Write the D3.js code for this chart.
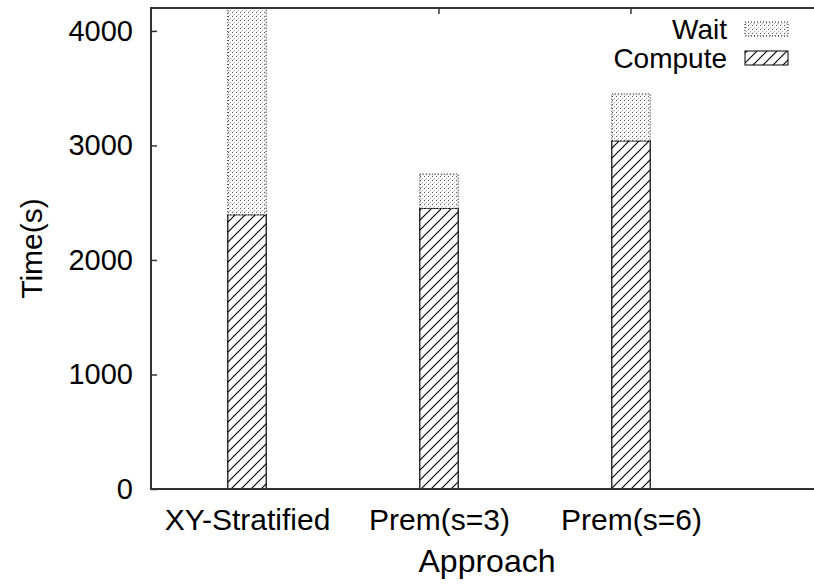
<!DOCTYPE html>
<html>
<head>
<meta charset="utf-8">
<script src="https://cdn.jsdelivr.net/npm/d3@7"></script>
<style>
  html, body { margin: 0; padding: 0; background: #fff; overflow: hidden; }
  svg { display: block; }
  text { font-family: "Liberation Sans", Arial, sans-serif; fill: #000; }
</style>
</head>
<body>
<div id="chart"></div>
<script>
const approaches = ["XY-Stratified", "Prem(s=3)", "Prem(s=6)"];
const computeTime = [2395, 2450, 3040];
const waitTime = [1900, 300, 410];
const yTicks = [0, 1000, 2000, 3000, 4000];

const width = 814, height = 584;
const plotL = 151, plotT = 8, plotR = 823, plotB = 489;

const svg = d3.select("#chart").append("svg")
    .attr("width", width)
    .attr("height", height);

const defs = svg.append("defs");

// hatch for compute
const hatch = defs.append("pattern")
    .attr("id", "hatch")
    .attr("patternUnits", "userSpaceOnUse")
    .attr("width", 10).attr("height", 10);
hatch.append("rect").attr("width", 10).attr("height", 10).attr("fill", "#fff");
hatch.append("path")
    .attr("d", "M-2,2 L2,-2 M0,10 L10,0 M8,12 L12,8")
    .attr("stroke", "#000").attr("stroke-width", 1.1);

// fine dots for wait
const dots = defs.append("pattern")
    .attr("id", "dots")
    .attr("patternUnits", "userSpaceOnUse")
    .attr("width", 4).attr("height", 4);
dots.append("rect").attr("width", 4).attr("height", 4).attr("fill", "#fff");
dots.append("rect").attr("x", 0).attr("y", 0).attr("width", 1).attr("height", 1).attr("fill", "#555");
dots.append("rect").attr("x", 2).attr("y", 2).attr("width", 1).attr("height", 1).attr("fill", "#aaa");
dots.append("rect").attr("x", 1).attr("y", 3).attr("width", 1).attr("height", 1).attr("fill", "#ccc");

defs.append("clipPath").attr("id", "plotclip")
  .append("rect").attr("x", plotL).attr("y", plotT)
  .attr("width", plotR - plotL).attr("height", plotB - plotT);

const x = d3.scaleLinear().domain([0.5, 4]).range([plotL, plotR]);
const y = d3.scaleLinear().domain([0, 4200]).range([plotB, plotT]);
const barW = x(1.2) - x(1);

// y axis with inward ticks
const yAxis = svg.append("g")
    .attr("transform", `translate(${plotL},0)`)
    .call(d3.axisLeft(y).tickValues(yTicks).tickFormat(d3.format("d"))
      .tickSize(-6).tickPadding(18));
yAxis.select(".domain").remove();
yAxis.attr("font-size", null).attr("font-family", null);
yAxis.selectAll("line").attr("stroke", "#333").attr("stroke-width", 1.5);
yAxis.selectAll("text").style("font-size", "29px");

// x axis
const xAxis = svg.append("g")
    .attr("transform", `translate(0,${plotB})`)
    .call(d3.axisBottom(x).tickValues([1, 2, 3]).tickFormat((d, i) => approaches[i])
      .tickSize(-6).tickPadding(20));
xAxis.select(".domain").remove();
xAxis.attr("font-size", null).attr("font-family", null);
xAxis.selectAll("line").attr("stroke", "#333").attr("stroke-width", 1.5);
xAxis.selectAll("text").style("font-size", "30px");

// mirrored top ticks
svg.append("g").selectAll("line")
  .data([1, 2, 3]).join("line")
    .attr("x1", d => x(d)).attr("x2", d => x(d))
    .attr("y1", plotT).attr("y2", plotT + 6)
    .attr("stroke", "#333").attr("stroke-width", 1.5);

// bars
const bars = svg.append("g").attr("clip-path", "url(#plotclip)");
bars.selectAll("rect.compute")
  .data(computeTime).join("rect")
    .attr("class", "compute")
    .attr("x", (d, i) => x(i + 1) - barW / 2)
    .attr("width", barW)
    .attr("y", d => y(d))
    .attr("height", d => y(0) - y(d))
    .attr("fill", "url(#hatch)")
    .attr("stroke", "#000").attr("stroke-width", 1.2);
bars.selectAll("rect.wait")
  .data(waitTime).join("rect")
    .attr("class", "wait")
    .attr("x", (d, i) => x(i + 1) - barW / 2)
    .attr("width", barW)
    .attr("y", (d, i) => y(computeTime[i] + d))
    .attr("height", (d, i) => y(computeTime[i]) - y(computeTime[i] + d))
    .attr("fill", "url(#dots)")
    .attr("stroke", "#000").attr("stroke-width", 1)
    .attr("stroke-dasharray", "1,2");

// frame: left, top, bottom (right edge falls outside the picture)
const frame = svg.append("g").attr("stroke", "#333").attr("stroke-width", 2).attr("fill", "none");
frame.append("path")
    .attr("d", `M${width},${plotT} H${plotL} V${plotB} H${width}`);

// axis titles
svg.append("text")
    .attr("x", (plotL + plotR) / 2).attr("y", 572)
    .attr("text-anchor", "middle").style("font-size", "32px")
    .text("Approach");
svg.append("text")
    .attr("transform", `translate(42,${(plotT + plotB) / 2}) rotate(-90)`)
    .attr("text-anchor", "middle").style("font-size", "30px")
    .text("Time(s)");

// legend
const legend = [
  { label: "Wait", fill: "url(#dots)", dash: "1,2" },
  { label: "Compute", fill: "url(#hatch)", dash: null }
];
const lg = svg.append("g").selectAll("g").data(legend).join("g")
    .attr("transform", (d, i) => `translate(0,${29 + i * 29})`);
lg.append("text")
    .attr("x", 727).attr("dy", "0.35em")
    .attr("text-anchor", "end").style("font-size", "28px")
    .text(d => d.label);
lg.append("rect")
    .attr("x", 745).attr("y", -7).attr("width", 43).attr("height", 14)
    .attr("fill", d => d.fill)
    .attr("stroke", "#000").attr("stroke-width", 1)
    .attr("stroke-dasharray", d => d.dash);
</script>
</body>
</html>
